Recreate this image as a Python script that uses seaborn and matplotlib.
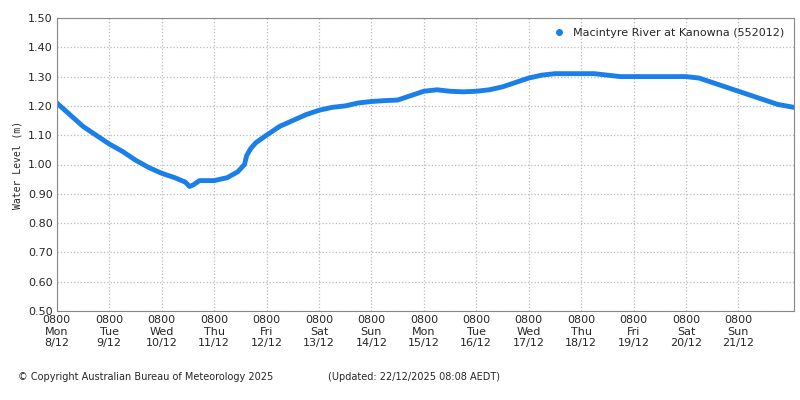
import matplotlib
matplotlib.use("Agg")
import matplotlib.pyplot as plt
import seaborn as sns
import pandas as pd

# time in days since 0800 Mon 8/12
days = [0.0, 0.25, 0.5, 0.75, 1.0, 1.25, 1.5, 1.75, 2.0, 2.25, 2.45, 2.53, 2.6, 2.72, 3.0, 3.25, 3.45,
        3.58, 3.62, 3.7, 3.8, 4.0, 4.25, 4.5, 4.75, 5.0, 5.25, 5.5, 5.75, 6.0, 6.25, 6.5, 6.75, 7.0,
        7.25, 7.5, 7.75, 8.0, 8.25, 8.5, 8.75, 9.0, 9.25, 9.5, 9.75, 10.0, 10.25, 10.5, 10.75, 11.0,
        11.25, 11.5, 11.75, 12.0, 12.25, 12.5, 12.75, 13.0, 13.25, 13.5, 13.75, 14.06]
level = [1.21, 1.17, 1.13, 1.10, 1.07, 1.045, 1.015, 0.99, 0.97, 0.955, 0.94, 0.925, 0.93, 0.945, 0.945, 0.955, 0.975,
         1.00, 1.03, 1.055, 1.075, 1.10, 1.13, 1.15, 1.17, 1.185, 1.195, 1.20, 1.21, 1.215, 1.218, 1.22, 1.235, 1.25,
         1.255, 1.25, 1.248, 1.25, 1.255, 1.265, 1.28, 1.295, 1.305, 1.31, 1.31, 1.31, 1.31, 1.305, 1.30, 1.30,
         1.30, 1.30, 1.30, 1.30, 1.295, 1.28, 1.265, 1.25, 1.235, 1.22, 1.205, 1.195]
tick_labels = ["0800\nMon\n8/12", "0800\nTue\n9/12", "0800\nWed\n10/12", "0800\nThu\n11/12", "0800\nFri\n12/12",
               "0800\nSat\n13/12", "0800\nSun\n14/12", "0800\nMon\n15/12", "0800\nTue\n16/12", "0800\nWed\n17/12",
               "0800\nThu\n18/12", "0800\nFri\n19/12", "0800\nSat\n20/12", "0800\nSun\n21/12"]
series = "Macintyre River at Kanowna (552012)"

sns.set_style("white")
plt.rcParams['font.family'] = ['DejaVu Sans']
df = pd.DataFrame({"day": days, "level": level})
fig = plt.figure(figsize=(8, 4), dpi=100)
ax = fig.add_axes([0.071, 0.2225, 0.9215, 0.7325])
color = "#1a7fe8"
sns.lineplot(data=df, x="day", y="level", ax=ax, color=color, linewidth=3.5, label=series)
ax.set_xlim(0, 14.06)
ax.set_ylim(0.5, 1.5)
ax.set_xticks(range(14))
ax.set_xticklabels(tick_labels, fontsize=8, linespacing=1.2)
ax.set_yticks([0.5 + 0.1 * i for i in range(11)])
ax.set_yticklabels([f"{0.5 + 0.1 * i:.2f}" for i in range(11)], fontsize=8)
ax.tick_params(length=0, pad=3)
ax.grid(True, color="#bbbbbb", linestyle=":", linewidth=0.9)
for s in ax.spines.values():
    s.set_color("#888888"); s.set_linewidth(0.8)
ax.set_xlabel("")
ax.set_ylabel("Water Level (m)", fontsize=7, family="DejaVu Sans Mono")
h = plt.Line2D([], [], marker="o", color=color, linestyle="none", markersize=4)
ax.legend([h], [series], loc="upper right", frameon=False, fontsize=8, handletextpad=0.2)
fig.text(0.022, 0.05, "© Copyright Australian Bureau of Meteorology 2025", fontsize=7)
fig.text(0.41, 0.05, "(Updated: 22/12/2025 08:08 AEDT)", fontsize=7)
fig.savefig("out.png")
